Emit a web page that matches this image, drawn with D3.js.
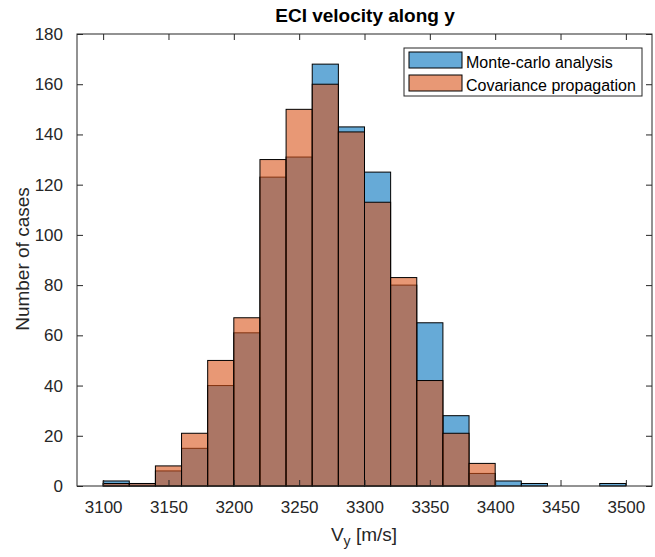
<!DOCTYPE html>
<html>
<head>
<meta charset="utf-8">
<script src="https://cdn.jsdelivr.net/npm/d3@7"></script>
<style>
  html, body { margin: 0; padding: 0; background: #ffffff; }
  svg { display: block; font-family: "Liberation Sans", Arial, Helvetica, sans-serif; }
</style>
</head>
<body>
<svg id="chart" width="655" height="557"></svg>
<script>
// ---- data ----
const binStarts = [3100, 3120, 3140, 3160, 3180, 3200, 3220, 3240, 3260, 3280, 3300, 3320, 3340, 3360, 3380, 3400, 3420, 3440, 3460, 3480];
const binWidth = 20;
const monteCarlo = [2, 1, 6, 15, 40, 61, 123, 131, 168, 143, 125, 80, 65, 28, 5, 2, 1, 0, 0, 1];
const covariance = [1, 1, 8, 21, 50, 67, 130, 150, 160, 141, 113, 83, 42, 21, 9, 0, 0, 0, 0, 0];
const xTicks = [3100, 3150, 3200, 3250, 3300, 3350, 3400, 3450, 3500];
const yTicks = [0, 20, 40, 60, 80, 100, 120, 140, 160, 180];
const seriesNames = ["Monte-carlo analysis", "Covariance propagation"];
const seriesColors = ["#0072BD", "#D95319"];

// ---- layout ----
const svg = d3.select("#chart");
const L = 77, R = 652, T = 34, B = 486;
const x = d3.scaleLinear().domain([3080, 3520]).range([L, R]);
const y = d3.scaleLinear().domain([0, 180]).range([B, T]);
const axisColor = "#262626";
const tickLen = 6;

// ---- bars ----
const series = [monteCarlo, covariance];
series.forEach((vals, si) => {
  svg.append("g").selectAll("rect")
    .data(binStarts.map((s, i) => ({ s, v: vals[i] })).filter(d => d.v > 0))
    .join("rect")
    .attr("x", d => x(d.s))
    .attr("width", d => x(d.s + binWidth) - x(d.s))
    .attr("y", d => y(d.v))
    .attr("height", d => y(0) - y(d.v))
    .attr("fill", seriesColors[si])
    .attr("fill-opacity", 0.6)
    .attr("stroke", "#000")
    .attr("stroke-width", 1);
});

// ---- axes (MATLAB-like box with inward ticks) ----
const ax = svg.append("g");
ax.append("rect").attr("x", L).attr("y", T).attr("width", R - L).attr("height", B - T)
  .attr("fill", "none").attr("stroke", axisColor).attr("stroke-width", 1);

const xb = svg.append("g").attr("transform", `translate(0,${B})`)
  .call(d3.axisBottom(x).tickValues(xTicks).tickSize(-tickLen).tickPadding(20).tickFormat(d3.format("d")));
const xt = svg.append("g").attr("transform", `translate(0,${T})`)
  .call(d3.axisTop(x).tickValues(xTicks).tickSize(-tickLen).tickFormat(""));
const yl = svg.append("g").attr("transform", `translate(${L},0)`)
  .call(d3.axisLeft(y).tickValues(yTicks).tickSize(-tickLen).tickPadding(14).tickFormat(d3.format("d")));
const yr = svg.append("g").attr("transform", `translate(${R},0)`)
  .call(d3.axisRight(y).tickValues(yTicks).tickSize(-tickLen).tickFormat(""));
[xb, xt, yl, yr].forEach(g => {
  g.select(".domain").remove();
  g.selectAll(".tick line").attr("stroke", axisColor).attr("stroke-width", 1);
  g.selectAll(".tick text").attr("fill", axisColor).style("font-size", "17px")
    .style("font-family", '"Liberation Sans", Arial, Helvetica, sans-serif');
});
xb.selectAll(".tick text").attr("dy", null).attr("y", 27);

// ---- title & labels ----
svg.append("text").attr("x", 365).attr("y", 22).attr("text-anchor", "middle")
  .style("font-size", "19px").style("font-weight", "bold").attr("fill", "#000")
  .text("ECI velocity along y");

const xl = svg.append("text").attr("x", 364).attr("y", 541).attr("text-anchor", "middle")
  .style("font-size", "19px").attr("fill", axisColor);
xl.append("tspan").text("V");
xl.append("tspan").attr("dy", 5).style("font-size", "14px").text("y");
xl.append("tspan").attr("dy", -5).text(" [m/s]");

svg.append("text").attr("transform", "translate(29,259) rotate(-90)")
  .attr("text-anchor", "middle").style("font-size", "19px").attr("fill", axisColor)
  .text("Number of cases");

// ---- legend ----
const lg = svg.append("g");
lg.append("rect").attr("x", 404).attr("y", 48).attr("width", 238).attr("height", 48)
  .attr("fill", "#fff").attr("stroke", axisColor).attr("stroke-width", 1);
seriesNames.forEach((name, i) => {
  const yy = 52 + i * 23;
  lg.append("rect").attr("x", 409).attr("y", yy).attr("width", 53).attr("height", 16)
    .attr("fill", seriesColors[i]).attr("fill-opacity", 0.6)
    .attr("stroke", "#000").attr("stroke-width", 1);
  lg.append("text").attr("x", 466).attr("y", yy + 16).style("font-size", "16px")
    .attr("fill", "#000").text(name);
});
</script>
</body>
</html>
